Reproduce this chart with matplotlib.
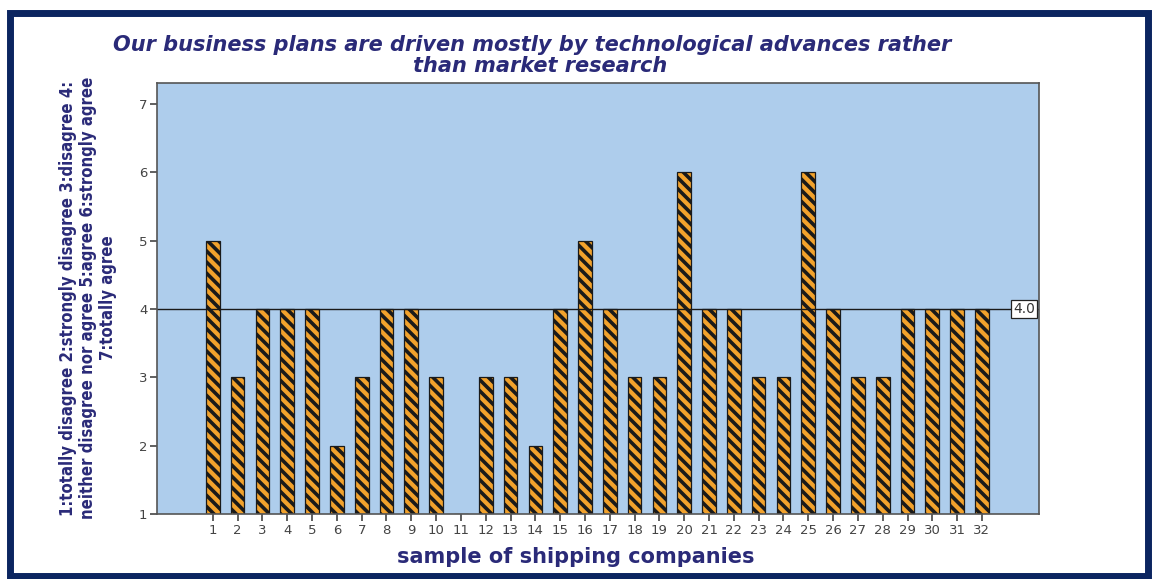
import numpy as np
import matplotlib.pyplot as plt
from matplotlib.patches import Rectangle

# survey answers per company (7-point scale, baseline 1)
companies = list(range(1, 33))
scores = [5, 3, 4, 4, 4, 2, 3, 4, 4, 3, 1, 3, 3, 2, 4, 5,
          4, 3, 3, 6, 4, 4, 3, 3, 6, 4, 3, 3, 4, 4, 4, 4]
ref_value = 4.0
y_ticks = [1, 2, 3, 4, 5, 6, 7]

navy = '#2a2a78'
bar_color = '#f2a22c'
bg_color = '#aecdec'

plt.rcParams['hatch.linewidth'] = 2.6

fig = plt.figure(figsize=(11.52, 5.79), dpi=100)
ax = fig.add_axes([157/1152, 1-514/579, (1039-157)/1152, (514-83)/579])
ax.set_facecolor(bg_color)

heights = [s - 1 for s in scores]
ax.bar(companies, heights, bottom=1, width=0.55, color=bar_color,
       edgecolor='#1a1a1a', linewidth=0.9, hatch='\\\\\\')

ax.axhline(ref_value, color='#1a1a1a', linewidth=1.0)
ax.text(34.15, ref_value, '%.1f' % ref_value, ha='right', va='center',
        fontsize=10, color='#333333',
        bbox=dict(boxstyle='square,pad=0.15', fc='white', ec='#222222', lw=0.9))

ax.set_xlim(-1.25, 34.3)
ax.set_ylim(1, 7.31)
ax.set_xticks(companies)
ax.set_yticks(y_ticks)
ax.tick_params(axis='both', colors='#444444', labelsize=9.5, length=5,
               width=1.2, direction='out', pad=2)
for sp in ax.spines.values():
    sp.set_color('#555555')
    sp.set_linewidth(1.2)

title_kw = dict(ha='center', va='center', fontsize=15, fontweight='bold',
                fontstyle='italic', color=navy)
fig.text(532/1152, 1-45/579,
         'Our business plans are driven mostly by technological advances rather',
         **title_kw)
fig.text(540/1152, 1-66/579, 'than market research', **title_kw)

fig.text(88/1152, 1-298/579,
         '1:totally disagree 2:strongly disagree 3:disagree 4:\n'
         'neither disagree nor agree 5:agree 6:strongly agree\n'
         '7:totally agree',
         ha='center', va='center', rotation=90, fontsize=12,
         fontweight='bold', fontstretch='condensed', color=navy,
         linespacing=1.12, family=['DejaVu Sans'])

fig.text(576/1152, 1-557/579, 'sample of shipping companies',
         ha='center', va='center', fontsize=15, fontweight='bold', color=navy)

# dark frame around the whole figure
fig.patches.append(Rectangle((10/1152, 3/579), 1138/1152, 563/579,
                             transform=fig.transFigure, fill=False,
                             edgecolor='#0b2560', linewidth=5))

fig.savefig('out.png', dpi=100)
